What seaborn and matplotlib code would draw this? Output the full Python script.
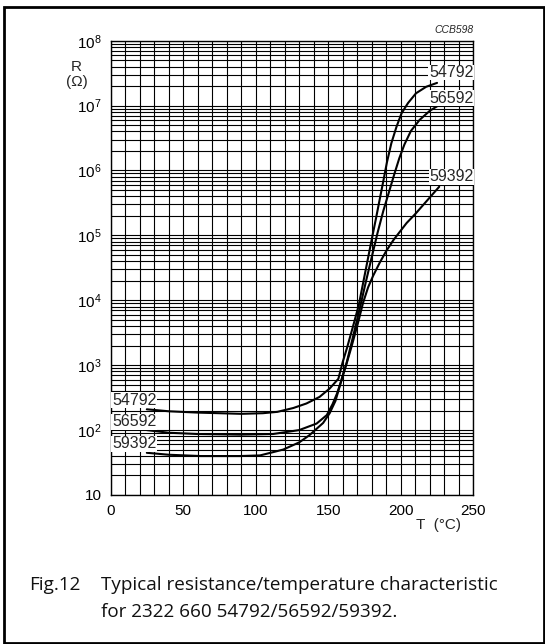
import numpy as np
import pandas as pd
import matplotlib
matplotlib.use('Agg')
import matplotlib.pyplot as plt
import seaborn as sns
from matplotlib.ticker import MultipleLocator, LogLocator, FuncFormatter, NullFormatter
from matplotlib.patches import Rectangle

# curves (T in degC, R in ohm)
t_54792 = [25, 40, 60, 75, 90, 105, 115, 126, 135, 144, 151, 157, 160, 163, 167, 171, 174, 177,
           180, 183, 185, 186.5, 188, 190.5, 193.5, 197, 200.5, 205, 210.5, 217.5, 225]
r_54792 = [209, 195, 186, 182, 178, 182, 191, 219, 257, 324, 437, 617, 1122, 1862, 3890, 8318,
           18200, 39810, 87100, 186200, 316200, 467700, 691800, 1349000, 2630000, 4677000,
           7586000, 10960000, 15490000, 19500000, 22390000]

t_56592 = [25, 40, 60, 89, 112, 130, 142, 149, 153, 156, 159, 162.5, 167, 171.5, 176, 181, 184,
           188, 191.5, 195.5, 199, 202.5, 207, 213, 220, 226.5]
r_56592 = [100, 91, 87, 85, 87, 100, 126, 170, 251, 363, 575, 1047, 2692, 7079, 19500, 57540,
           109600, 239900, 436500, 871000, 1549000, 2512000, 4074000, 6026000, 8318000, 10230000]

t_59392 = [25, 40, 62, 89, 103, 112, 119, 126, 130, 137, 146.5, 151, 155, 158, 160, 163, 166,
           170.5, 174, 177.5, 181, 185.5, 190, 195, 204, 210, 215.5, 221, 226.5]
r_59392 = [44.7, 41.7, 39.8, 39.8, 40.7, 45.7, 50.1, 58.9, 64.6, 83.2, 128.8, 182, 281.8, 478.6,
           691.8, 1122, 1905, 4467, 9120, 15850, 23990, 38020, 57540, 85110, 154900, 213800,
           295100, 407400, 562300]

types = ['54792', '56592', '59392']
x_ticks = [0, 50, 100, 150, 200, 250]

df = pd.concat([
    pd.DataFrame({'T': t_54792, 'R': r_54792, 'type': '54792'}),
    pd.DataFrame({'T': t_56592, 'R': r_56592, 'type': '56592'}),
    pd.DataFrame({'T': t_59392, 'R': r_59392, 'type': '59392'}),
])

sns.set_theme(style='white')
plt.rcParams['font.family'] = ['Liberation Sans', 'DejaVu Sans']
plt.rcParams['mathtext.fontset'] = 'custom'
plt.rcParams['mathtext.rm'] = 'Liberation Sans'
plt.rcParams['mathtext.it'] = 'Liberation Sans:italic'

fig = plt.figure(figsize=(5.45, 6.44), dpi=100)
ax = fig.add_axes([0.2028, 0.2314, 0.6657, 0.7054])

for t in types:
    sns.lineplot(data=df[df['type'] == t], x='T', y='R', ax=ax, color='black',
                 lw=1.5, sort=False, estimator=None, legend=False)

ax.set_yscale('log')
ax.set_xlim(0, 250)
ax.set_ylim(10, 1e8)
ax.set_xticks(x_ticks)
ax.xaxis.set_minor_locator(MultipleLocator(10))
ax.yaxis.set_major_locator(LogLocator(base=10, numticks=10))
ax.yaxis.set_minor_locator(LogLocator(base=10, subs=np.arange(2, 10), numticks=100))
ax.yaxis.set_minor_formatter(NullFormatter())
ax.yaxis.set_major_formatter(FuncFormatter(
    lambda v, p: '10' if abs(v - 10) < 1e-6 else '$10^{%d}$' % round(np.log10(v))))
ax.grid(which='both', color='black', lw=0.8)
ax.tick_params(which='both', length=0, labelsize=11, pad=6.5, colors='black')
for s in ax.spines.values():
    s.set_color('black')
    s.set_linewidth(1.0)
ax.set_xlabel('')
ax.set_ylabel('')

box = dict(fc='white', ec='none', pad=0.3)
ax.text(1.0, 0.930, '54792', transform=ax.transAxes, ha='right', va='center', fontsize=11.5, bbox=box)
ax.text(1.0, 0.873, '56592', transform=ax.transAxes, ha='right', va='center', fontsize=11.5, bbox=box)
ax.text(1.0, 0.700, '59392', transform=ax.transAxes, ha='right', va='center', fontsize=11.5, bbox=box)
ax.text(0.004, 0.209, '54792', transform=ax.transAxes, ha='left', va='center', fontsize=11.5, bbox=box)
ax.text(0.004, 0.161, '56592', transform=ax.transAxes, ha='left', va='center', fontsize=11.5, bbox=box)
ax.text(0.004, 0.113, '59392', transform=ax.transAxes, ha='left', va='center', fontsize=11.5, bbox=box)
ax.text(1.0, 1.0235, 'CCB598', transform=ax.transAxes, ha='right', va='center',
        fontsize=7.5, style='italic')

fig.text(0.1407, 0.885, 'R\n(\u03a9)', ha='center', va='center', fontsize=11, linespacing=1.1)
fig.text(0.8037, 0.1848, 'T  (\u00b0C)', ha='center', va='center', fontsize=11)

cap = dict(fontsize=13.6, family=['Open Sans', 'DejaVu Sans'], va='baseline', color='#111111')
fig.text(29.5 / 545, 1 - 590 / 644, 'Fig.12', **cap)
fig.text(101 / 545, 1 - 590 / 644, 'Typical resistance/temperature characteristic', **cap)
fig.text(101 / 545, 1 - 617 / 644, 'for 2322 660 54792/56592/59392.', **cap)

fig.add_artist(Rectangle((0.0073, 0.0016), 0.990, 0.9871, transform=fig.transFigure,
                         fill=False, lw=2.0, ec='black'))

fig.savefig('out.png', dpi=100)
